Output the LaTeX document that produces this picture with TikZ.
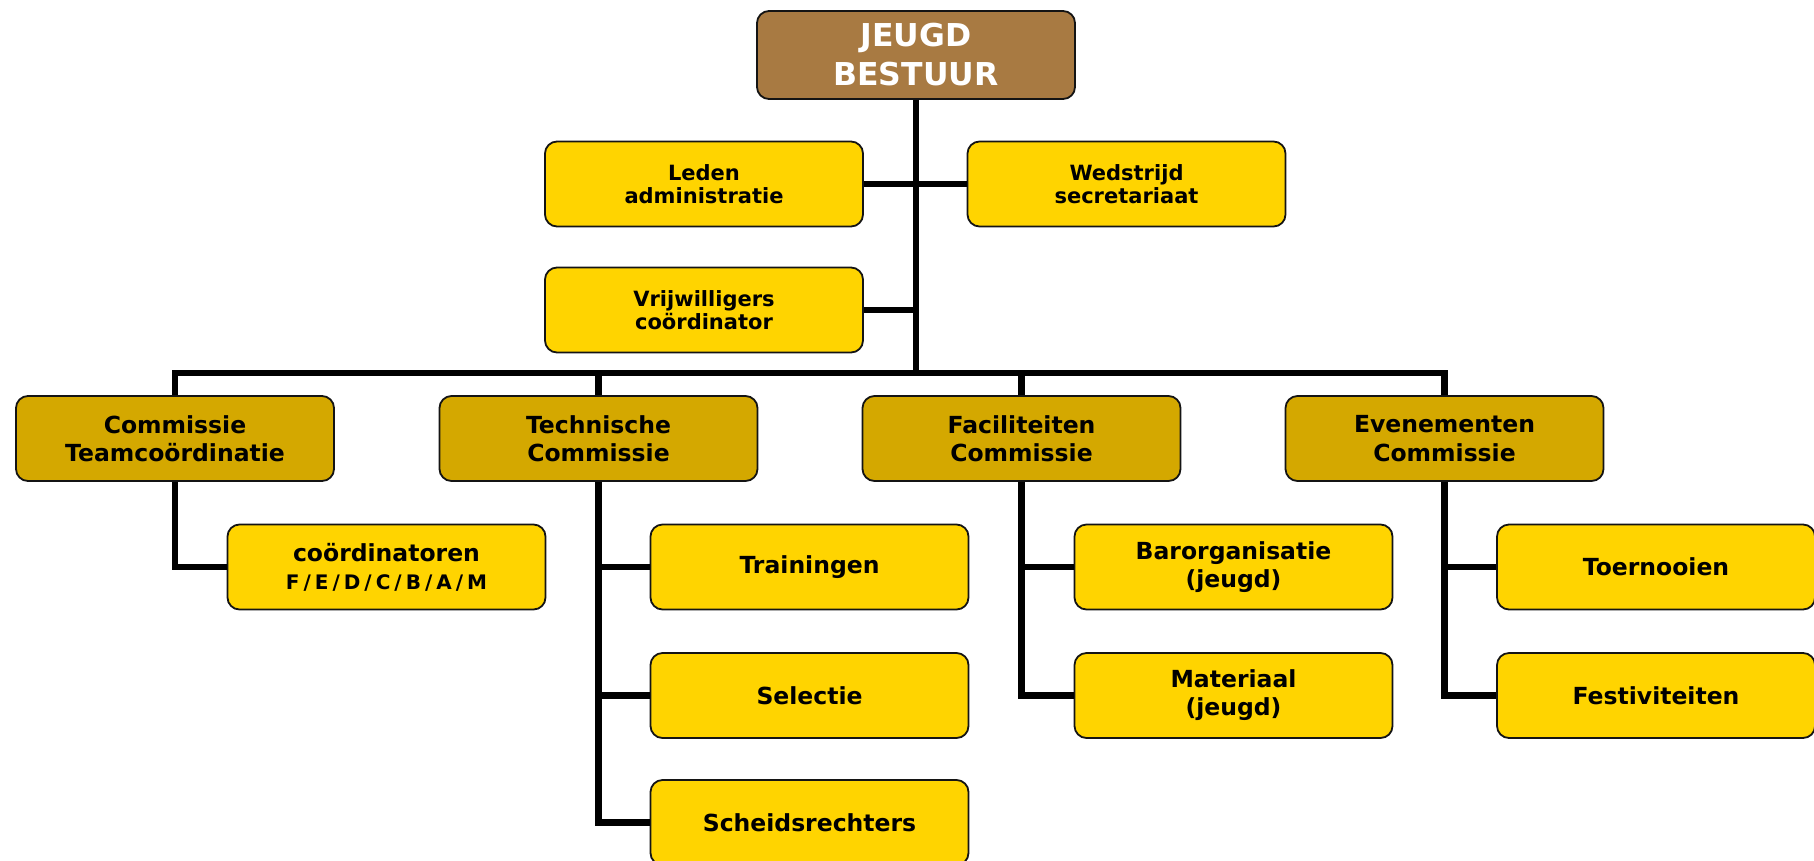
\documentclass[tikz,border=0pt]{standalone}
\usepackage{fontspec}
\setmainfont{DejaVu Sans}
\definecolor{brownbox}{RGB}{168,122,66}
\definecolor{goldbox}{RGB}{212,168,0}
\definecolor{yellowbox}{RGB}{255,212,0}
\definecolor{edgecol}{RGB}{20,20,20}
\begin{document}
\begin{tikzpicture}[x=1pt,y=-1pt,
  box/.style={draw=edgecol, line width=1.8pt, rounded corners=12pt, align=center,
    minimum width=318pt, inner sep=0pt, text=black},
  topbox/.style={box, fill=brownbox, minimum height=88pt, text=white,
    font={\fontsize{31.5}{39}\selectfont\bfseries}},
  staffbox/.style={box, fill=yellowbox, minimum height=85pt,
    font={\fontsize{21}{23.5}\selectfont\bfseries}},
  commbox/.style={box, fill=goldbox, minimum height=85pt,
    font={\fontsize{23.5}{28.5}\selectfont\bfseries}},
  childbox/.style={box, fill=yellowbox, minimum height=85pt,
    font={\fontsize{23.5}{28}\selectfont\bfseries}},
  conn/.style={line width=6.5pt, line join=miter, draw=black}
]
\useasboundingbox (0,0) rectangle (1814,860);

% top
\node[topbox] (top) at (916,55) {JEUGD\\BESTUUR};
% staff
\node[staffbox] (leden) at (704,184) {Leden\\administratie};
\node[staffbox] (wed) at (1126.5,184) {Wedstrijd\\secretariaat};
\node[staffbox] (vrij) at (704,310) {Vrijwilligers\\coördinator};
% commissions
\node[commbox] (c1) at (175,438.5) {Commissie\\Teamcoördinatie};
\node[commbox] (c2) at (598.5,438.5) {Technische\\Commissie};
\node[commbox] (c3) at (1021.5,438.5) {Faciliteiten\\Commissie};
\node[commbox] (c4) at (1444.5,438.5) {Evenementen\\Commissie};
% children
\node[childbox] (coord) at (386.5,567) {coördinatoren\\{\fontsize{20}{27}\selectfont\addfontfeatures{LetterSpace=20}F/E/D/C/B/A/M}};
\node[childbox] (train) at (809.5,567) {Trainingen};
\node[childbox] (sel) at (809.5,695.5) {Selectie};
\node[childbox] (sch) at (809.5,822.5) {Scheidsrechters};
\node[childbox] (bar) at (1233.5,567) {Barorganisatie\\(jeugd)};
\node[childbox] (mat) at (1233.5,695.5) {Materiaal\\(jeugd)};
\node[childbox] (toer) at (1656,567) {Toernooien};
\node[childbox] (fest) at (1656,695.5) {Festiviteiten};

% connectors
\coordinate (bus) at (916,373);
\draw[conn] (top.south) -- (bus);
\draw[conn] (leden.east) -- (wed.west);
\draw[conn] (vrij.east) -- (vrij.east -| bus);
\draw[conn] (c1.north) -- (c1.north |- bus) -- (c4.north |- bus) -- (c4.north);
\draw[conn] (c2.north) -- (c2.north |- bus);
\draw[conn] (c3.north) -- (c3.north |- bus);
\draw[conn] (c1.south) |- (coord.west);
\draw[conn] (c2.south) |- (train.west);
\draw[conn] (c2.south) |- (sel.west);
\draw[conn] (c2.south) |- (sch.west);
\draw[conn] (c3.south) |- (bar.west);
\draw[conn] (c3.south) |- (mat.west);
\draw[conn] (c4.south) |- (toer.west);
\draw[conn] (c4.south) |- (fest.west);
\end{tikzpicture}
\end{document}
